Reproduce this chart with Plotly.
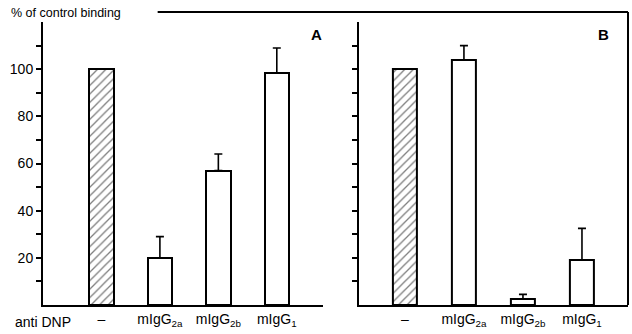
import plotly.graph_objects as go

# Bar positions on each panel's category axis
positions = [1, 2, 3, 4]
categories = ["–", "mIgG<sub>2a</sub>", "mIgG<sub>2b</sub>", "mIgG<sub>1</sub>"]
row_label = "anti DNP"

# Panel A: % of control binding and upper error
values_a = [100, 20, 57, 98.5]
errors_a = [0, 9, 7, 10.5]

# Panel B
values_b = [100, 104, 2.5, 19]
errors_b = [0, 6, 2, 13.5]

# Y-axis ticks (every 10, labelled every 20)
tick_vals = [10, 20, 30, 40, 50, 60, 70, 80, 90, 100, 110]
tick_text = ["", "20", "", "40", "", "60", "", "80", "", "100", ""]

FONT = "Liberation Sans"
INK = "black"


def add_panel(fig, values, errors, xa, ya):
    # control bar (hatched) first, then the open bars
    fig.add_trace(go.Bar(
        x=positions[:1], y=values[:1], width=0.42,
        marker=dict(color="white", line=dict(color=INK, width=2),
                    pattern=dict(shape="/", fgcolor=INK, bgcolor="white",
                                 size=6, solidity=0.22)),
        xaxis=xa, yaxis=ya, showlegend=False, hoverinfo="skip"))
    fig.add_trace(go.Bar(
        x=positions[1:], y=values[1:], width=0.42,
        marker=dict(color="white", line=dict(color=INK, width=2)),
        error_y=dict(type="data", symmetric=False, array=errors[1:],
                     arrayminus=[0] * 3, color=INK, thickness=1.6, width=4),
        xaxis=xa, yaxis=ya, showlegend=False, hoverinfo="skip"))


fig = go.Figure()
add_panel(fig, values_a, errors_a, "x", "y")
add_panel(fig, values_b, errors_b, "x2", "y2")

axis_font = dict(family=FONT, size=14, color=INK)

xcommon = dict(showline=True, linecolor=INK, linewidth=2, showgrid=False,
               zeroline=False, ticks="", tickvals=positions,
               ticktext=categories, tickfont=axis_font)
ycommon = dict(range=[0, 120], showline=True, linecolor=INK, linewidth=2,
               showgrid=False, zeroline=False, ticks="outside", ticklen=5,
               tickwidth=1.5, tickcolor=INK, tickvals=tick_vals,
               tickfont=axis_font)

fig.update_layout(
    width=632, height=334,
    margin=dict(l=43, r=4, t=22, b=29),
    paper_bgcolor="white", plot_bgcolor="white",
    bargap=0,
    xaxis=dict(domain=[0, 0.4786], range=[0, 4.79], anchor="y", **xcommon),
    xaxis2=dict(domain=[0.54, 1.0], range=[0.22, 4.78], anchor="y2", **xcommon),
    yaxis=dict(anchor="x", ticktext=tick_text, **ycommon),
    yaxis2=dict(anchor="x2", showticklabels=False, **ycommon),
    font=dict(family=FONT, color=INK),
)

# axis title written across the top
fig.add_annotation(text="% of control binding", xref="paper", yref="paper",
                   x=-0.058, y=1.032, xanchor="left", yanchor="middle",
                   showarrow=False, font=dict(family=FONT, size=12.5, color=INK))

# row label under the first axis
fig.add_annotation(text=row_label, xref="paper", yref="paper",
                   x=0.0, y=-0.06, xanchor="center", yanchor="middle",
                   showarrow=False, font=axis_font)

# panel letters
fig.add_annotation(text="<b>A</b>", xref="paper", yref="paper",
                   x=0.468, y=0.955, xanchor="center", yanchor="middle",
                   showarrow=False, font=dict(family=FONT, size=15, color=INK))
fig.add_annotation(text="<b>B</b>", xref="paper", yref="paper",
                   x=0.958, y=0.955, xanchor="center", yanchor="middle",
                   showarrow=False, font=dict(family=FONT, size=15, color=INK))

# frame line across the top and down the right side of panel B
fig.add_shape(type="line", xref="paper", yref="paper",
              x0=0.196, x1=1.0, y0=1.035, y1=1.035,
              line=dict(color=INK, width=2))
fig.add_shape(type="line", xref="paper", yref="paper",
              x0=1.0, x1=1.0, y0=1.035, y1=0.0,
              line=dict(color=INK, width=2))

fig.write_html("out.html")
